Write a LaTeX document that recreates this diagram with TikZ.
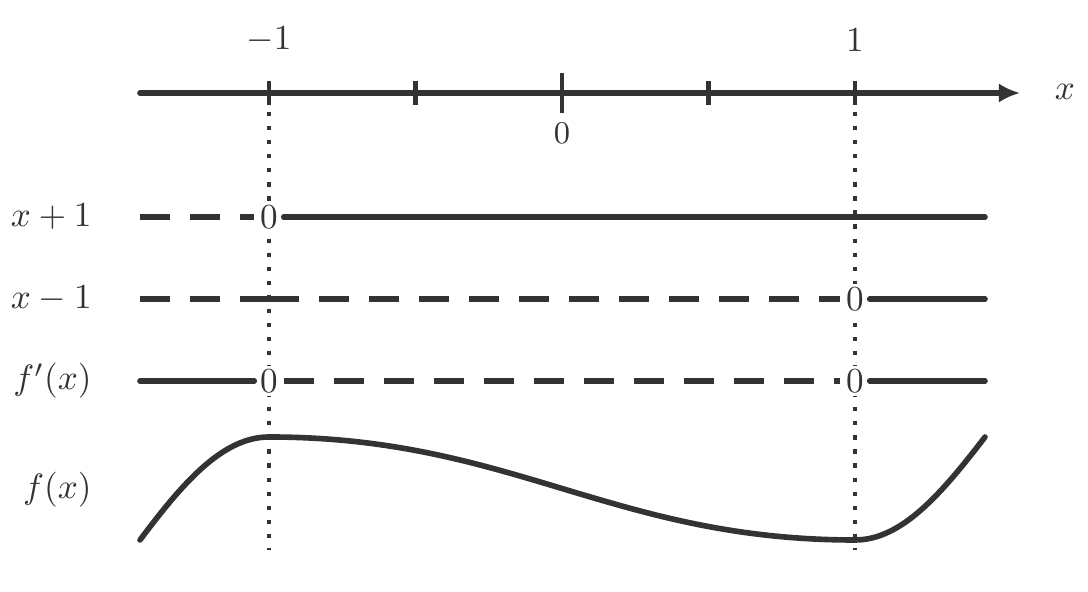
\documentclass[tikz,border=0pt]{standalone}
\usepackage{amsmath}
\usetikzlibrary{arrows.meta}
\definecolor{ink}{HTML}{333333}
\newcommand{\zeronode}{\node[fill=white,inner xsep=1.5pt,inner ysep=1pt]}
\newcommand{\rownode}{\node[anchor=east]}
\tikzset{
  thickline/.style={line width=1.6pt,draw=ink},
  signpos/.style={thickline,line cap=round},
  signneg/.style={thickline,dash pattern=on 0.3cm off 0.2cm},
  guide/.style={line width=1.3pt,draw=ink,dash pattern=on 1.2pt off 2.8pt},
  tick/.style={line width=1.2pt,draw=ink},
}

\begin{document}
\begin{tikzpicture}[every node/.style={text=ink}]
  \useasboundingbox (-5.62,0) rectangle (5.26,5.92);
  % number line
  \coordinate (ax0) at (-4.22,4.99);
  \coordinate (ax1) at (4.58,4.99);
  \draw[thickline,line cap=round,-{Latex[length=6pt,width=5.5pt]}] (ax0) -- (ax1);
  \foreach \t in {-2.93,-1.465,1.465,2.93}
    \draw[tick] (\t,4.87) -- (\t,5.11);
  \draw[tick] (0,4.79) -- (0,5.19);
  \node (lm1) at (-2.93,5.52) {$-1$};
  \node (lp1) at (2.93,5.52) {$1$};
  \node[font=\small] (l0) at (0,4.59) {$0$};
  \node (lx) at (5.03,5.0) {$x$};
  % guides at x=-1 and x=1
  \coordinate (gAt) at (-2.93,4.80);
  \coordinate (gAb) at (-2.93,0.42);
  \coordinate (gBt) at (2.93,4.80);
  \coordinate (gBb) at (2.93,0.42);
  \draw[guide] (gAt) -- (gAb);
  \draw[guide] (gBt) -- (gBb);
  % row labels
  \rownode (lab1) at (-4.58,3.75) {$x+1$};
  \rownode (lab2) at (-4.58,2.93) {$x-1$};
  \rownode (lab3) at (-4.58,2.11) {$f'(x)$};
  \rownode (lab4) at (-4.58,1.02) {$f(x)$};
  % x+1
  \coordinate (r1s) at (-4.22,3.75);
  \zeronode (z1a) at (-2.93,3.75) {$0$};
  \coordinate (r1e) at (4.23,3.75);
  \draw[signneg] (r1s) -- (z1a.west);
  \draw[signpos] (z1a.east) -- (r1e);
  % x-1
  \coordinate (r2s) at (-4.22,2.93);
  \coordinate (r2m) at (-2.93,2.93);
  \zeronode (z2b) at (2.93,2.93) {$0$};
  \coordinate (r2e) at (4.23,2.93);
  \draw[signneg] (r2s) -- (r2m);
  \draw[signneg] (r2m) -- (z2b.west);
  \draw[signpos] (z2b.east) -- (r2e);
  % f'(x)
  \coordinate (r3s) at (-4.22,2.11);
  \zeronode (z3a) at (-2.93,2.11) {$0$};
  \zeronode (z3b) at (2.93,2.11) {$0$};
  \coordinate (r3e) at (4.23,2.11);
  \draw[signpos] (r3s) -- (z3a.west);
  \draw[signneg] (z3a.east) -- (z3b.west);
  \draw[signpos] (z3b.east) -- (r3e);
  % f(x)
  \coordinate (fA) at (-4.22,0.52);
  \coordinate (fmax) at (-2.93,1.55);
  \coordinate (fmin) at (2.93,0.52);
  \coordinate (fB) at (4.23,1.55);
  \draw[signpos] (fA) .. controls (-3.8,1.08) and (-3.4,1.55) .. (fmax)
    .. controls (-0.5,1.55) and (0.5,0.52) .. (fmin)
    .. controls (3.4,0.52) and (3.8,0.99) .. (fB);
\end{tikzpicture}
\end{document}
